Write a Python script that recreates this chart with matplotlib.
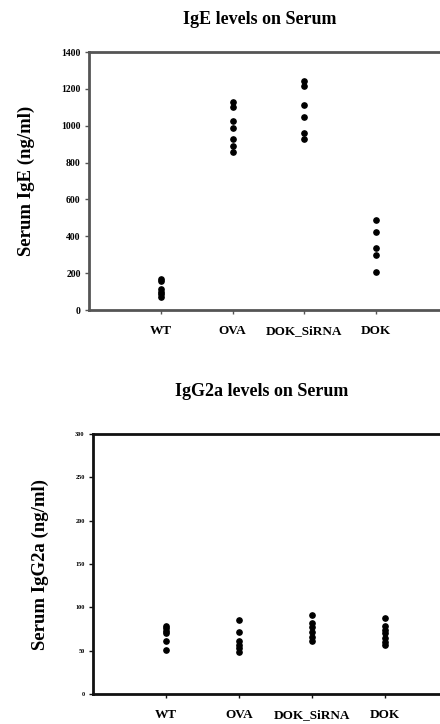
import matplotlib.pyplot as plt

plt.rcParams['font.family'] = 'Liberation Serif'
plt.rcParams['font.weight'] = 'bold'

groups = ['WT', 'OVA', 'DOK_SiRNA', 'DOK']

ige_wt = [170, 160, 115, 100, 85, 70]
ige_ova = [1130, 1100, 1025, 990, 930, 890, 855]
ige_sirna = [1240, 1215, 1110, 1050, 960, 930]
ige_dok = [490, 425, 335, 300, 207]

igg_wt = [79, 76, 73, 70, 61, 51]
igg_ova = [85, 72, 61, 57, 53, 49]
igg_sirna = [91, 82, 77, 72, 66, 61]
igg_dok = [88, 79, 74, 70, 65, 60, 56]

ige_ticks = [0, 200, 400, 600, 800, 1000, 1200, 1400]
igg_ticks = [0, 50, 100, 150, 200, 250, 300]

W, H = 440, 724
fig = plt.figure(figsize=(W / 100, H / 100), dpi=100)


def make_axes(left, top, bottom, right):
    return fig.add_axes([left / W, 1 - bottom / H, (right - left) / W, (bottom - top) / H])


def draw_panel(ax, series, ticks, ylabel, spine_color, tick_size, ylabel_x, xpad):
    for i, vals in enumerate(series):
        ax.plot([i + 1] * len(vals), vals, 'o', color='black', markersize=3.8, linestyle='none')
    ax.set_xlim(0, 5)
    ax.set_ylim(ticks[0], ticks[-1])
    ax.set_yticks(ticks)
    ax.set_yticklabels([str(t) for t in ticks], fontsize=tick_size, fontweight='bold')
    ax.set_xticks(range(1, 5))
    ax.set_xticklabels(groups, fontsize=9.5, fontweight='bold')
    for side in ['left', 'top', 'bottom']:
        ax.spines[side].set_color(spine_color)
        ax.spines[side].set_linewidth(2)
    ax.spines['right'].set_visible(False)
    ax.tick_params(axis='both', direction='out', length=3, width=1, color=spine_color, pad=3)
    ax.tick_params(axis='x', pad=xpad)
    ax.set_ylabel(ylabel, fontsize=13.5, fontweight='bold')
    ax.yaxis.set_label_coords(ylabel_x, 0.5)


ax1 = make_axes(89, 52, 310, 448)
draw_panel(ax1, [ige_wt, ige_ova, ige_sirna, ige_dok], ige_ticks,
           'Serum IgE (ng/ml)', '#555555', 7, -0.15, 8)

ax2 = make_axes(93, 434, 694, 458)
draw_panel(ax2, [igg_wt, igg_ova, igg_sirna, igg_dok], igg_ticks,
           'Serum IgG2a (ng/ml)', '#111111', 4.5, -0.12, 8)

fig.text(260 / W, 1 - 19 / H, 'IgE levels on Serum', fontsize=13, fontweight='bold',
         ha='center', va='center')
fig.text(262 / W, 1 - 392 / H, 'IgG2a levels on Serum', fontsize=13, fontweight='bold',
         ha='center', va='center')

fig.savefig('out.png', dpi=100)
